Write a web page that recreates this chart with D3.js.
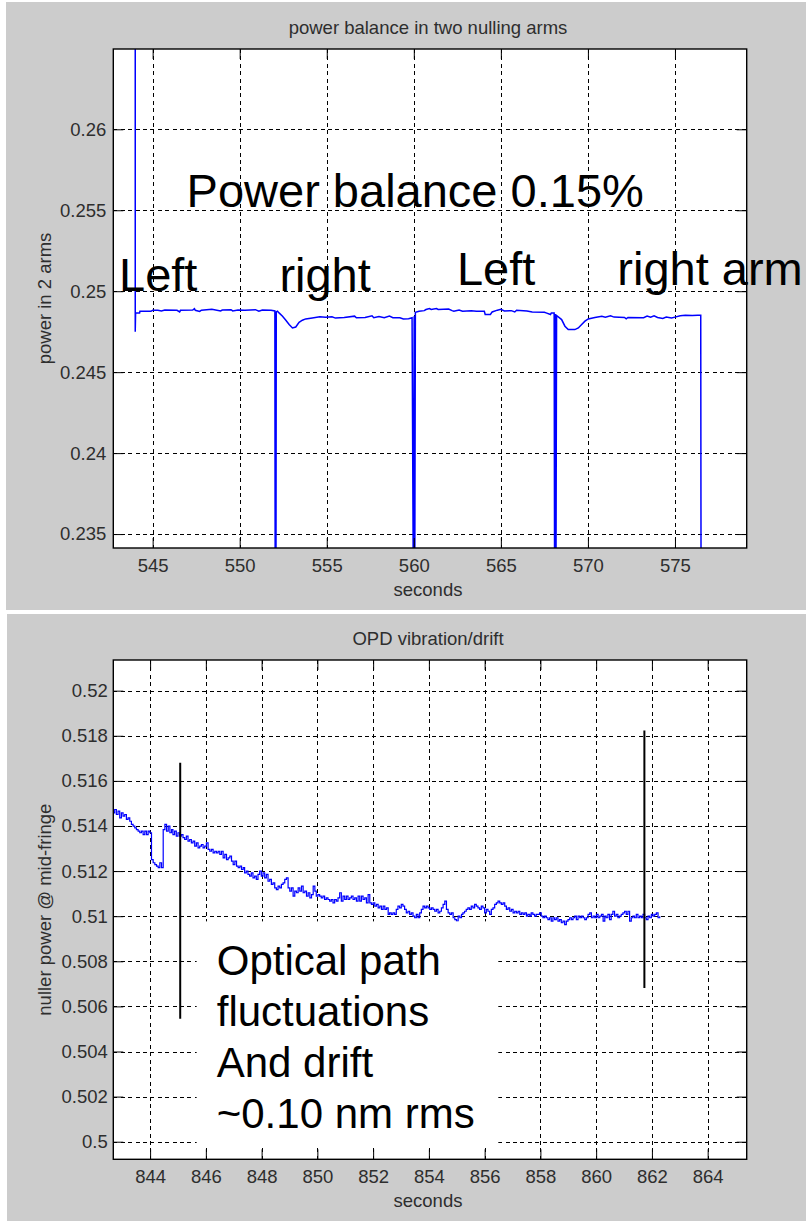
<!DOCTYPE html>
<html>
<head>
<meta charset="utf-8">
<script src="https://cdn.jsdelivr.net/npm/d3@7"></script>
<style>
  html, body { margin: 0; padding: 0; background: #ffffff; }
  svg { display: block; }
  text { font-family: "Liberation Sans", Arial, Helvetica, sans-serif; }
</style>
</head>
<body>
<svg id="fig" width="806" height="1221"></svg>
<script>
// ---------- Panel 1: power balance in two nulling arms ----------
const balanceTitle = "power balance in two nulling arms";
const balanceXLabel = "seconds";
const balanceYLabel = "power in 2 arms";
const balanceXDomain = [542.74, 579.12];
const balanceYDomain = [0.23414, 0.26496];
const balanceXTicks = [545, 550, 555, 560, 565, 570, 575];
const balanceXTickLabels = ["545", "550", "555", "560", "565", "570", "575"];
const balanceYTicks = [0.235, 0.24, 0.245, 0.25, 0.255, 0.26];
const balanceYTickLabels = ["0.235", "0.24", "0.245", "0.25", "0.255", "0.26"];

const balanceTime = [
  544.00, 544.00, 544.02, 544.25, 544.27, 544.90, 545.00, 545.30, 545.50, 545.70,
  546.40, 546.55, 546.60, 547.30, 547.40, 547.45, 547.70, 547.80, 548.40, 548.90,
  549.00, 549.50, 549.60, 549.90, 550.30, 550.90, 551.10, 551.30, 551.80, 552.02,
  552.04, 552.06, 552.08, 552.10, 552.17, 552.26, 552.46, 552.65, 552.84, 553.03,
  553.22, 553.41, 553.60, 553.79, 554.17, 554.60, 554.93, 555.30, 555.50, 556.00,
  556.60, 556.70, 557.20, 557.60, 557.70, 558.00, 558.30, 558.60, 558.80, 559.20,
  559.40, 559.70, 559.90, 559.98, 560.02, 560.05, 560.09, 560.30, 560.60, 560.70,
  560.90, 561.00, 561.30, 561.40, 562.00, 562.20, 562.30, 562.60, 562.80, 563.30,
  563.60, 564.05, 564.10, 564.40, 564.50, 564.80, 565.00, 565.20, 565.60, 565.80,
  565.90, 566.50, 566.80, 567.50, 567.60, 567.85, 567.90, 568.06, 568.09, 568.13,
  568.16, 568.20, 568.49, 568.68, 568.87, 569.25, 569.45, 569.64, 569.83, 570.02,
  570.40, 570.80, 571.00, 571.30, 571.50, 572.10, 572.20, 572.30, 573.20, 573.40,
  573.60, 573.80, 574.00, 574.30, 574.50, 574.80, 575.00, 575.30, 575.60, 576.00,
  576.30, 576.48, 576.50
];
const balancePower = [
  0.2700, 0.2475, 0.24866, 0.24866, 0.24876, 0.24876, 0.24882, 0.24882, 0.24878, 0.24884,
  0.24882, 0.24872, 0.24882, 0.24884, 0.24892, 0.24882, 0.24875, 0.24883, 0.24888, 0.24878,
  0.24884, 0.24886, 0.24878, 0.24884, 0.24882, 0.24886, 0.24876, 0.24884, 0.24882, 0.24878,
  0.2300, 0.2410, 0.2300, 0.24872, 0.24876, 0.24866, 0.24845, 0.24821, 0.24794, 0.24773,
  0.24779, 0.24808, 0.24821, 0.24829, 0.24835, 0.24842, 0.24839, 0.24842, 0.24834, 0.24838,
  0.24846, 0.24836, 0.24838, 0.24848, 0.24836, 0.24844, 0.24836, 0.24846, 0.24836, 0.24836,
  0.24828, 0.24830, 0.24836, 0.2300, 0.24845, 0.2300, 0.24870, 0.24876, 0.24880, 0.24887,
  0.24893, 0.24887, 0.24893, 0.24887, 0.24890, 0.24880, 0.24876, 0.24884, 0.24876, 0.24880,
  0.24876, 0.24876, 0.24856, 0.24856, 0.24872, 0.24883, 0.24888, 0.24878, 0.24880, 0.24872,
  0.24882, 0.24878, 0.24872, 0.24870, 0.24866, 0.24856, 0.24866, 0.24866, 0.2300, 0.24860,
  0.2300, 0.24850, 0.24825, 0.24784, 0.24763, 0.24763, 0.24773, 0.24794, 0.24815, 0.24829,
  0.24838, 0.24845, 0.24840, 0.24848, 0.24840, 0.24838, 0.24830, 0.24838, 0.24836, 0.24846,
  0.24840, 0.24848, 0.24838, 0.24832, 0.24840, 0.24834, 0.24840, 0.24848, 0.24852, 0.24850,
  0.24852, 0.24852, 0.2300
];

const balanceNotes = [
  { text: "Power balance 0.15%", t: 546.95, v: 0.25519 },
  { text: "Left", t: 543.07, v: 0.25000 },
  { text: "right", t: 552.28, v: 0.25000 },
  { text: "Left", t: 562.48, v: 0.25037 },
  { text: "right arm", t: 571.69, v: 0.25037 }
];

// ---------- Panel 2: OPD vibration/drift ----------
const opdTitle = "OPD vibration/drift";
const opdXLabel = "seconds";
const opdYLabel = "nuller power @ mid-fringe";
const opdXDomain = [842.68, 865.40];
const opdYDomain = [0.49922, 0.52136];
const opdXTicks = [844, 846, 848, 850, 852, 854, 856, 858, 860, 862, 864];
const opdXTickLabels = ["844", "846", "848", "850", "852", "854", "856", "858", "860", "862", "864"];
const opdYTicks = [0.5, 0.502, 0.504, 0.506, 0.508, 0.51, 0.512, 0.514, 0.516, 0.518, 0.52];
const opdYTickLabels = ["0.5", "0.502", "0.504", "0.506", "0.508", "0.51", "0.512", "0.514", "0.516", "0.518", "0.52"];

const opdTime = [
  842.67, 842.73, 842.79, 842.85, 842.91, 842.97, 843.03, 843.09, 843.15, 843.21,
  843.27, 843.33, 843.39, 843.45, 843.51, 843.57, 843.63, 843.69, 843.75, 843.81,
  843.87, 843.93, 843.99, 844.05, 844.11, 844.17, 844.23, 844.29, 844.35, 844.41,
  844.47, 844.53, 844.59, 844.65, 844.71, 844.77, 844.82, 844.88, 844.94, 845.00,
  845.06, 845.12, 845.18, 845.24, 845.30, 845.36, 845.42, 845.48, 845.54, 845.60,
  845.66, 845.72, 845.78, 845.84, 845.90, 845.96, 846.02, 846.08, 846.14, 846.20,
  846.26, 846.32, 846.38, 846.44, 846.50, 846.56, 846.62, 846.68, 846.74, 846.80,
  846.86, 846.92, 846.98, 847.04, 847.10, 847.16, 847.22, 847.28, 847.34, 847.39,
  847.45, 847.51, 847.57, 847.63, 847.69, 847.75, 847.81, 847.87, 847.93, 847.99,
  848.05, 848.11, 848.17, 848.23, 848.29, 848.35, 848.41, 848.47, 848.53, 848.59,
  848.65, 848.71, 848.77, 848.83, 848.89, 848.95, 849.01, 849.07, 849.13, 849.19,
  849.25, 849.31, 849.37, 849.43, 849.49, 849.55, 849.61, 849.67, 849.73, 849.79,
  849.85, 849.91, 849.96, 850.02, 850.08, 850.14, 850.20, 850.26, 850.32, 850.38,
  850.44, 850.50, 850.56, 850.62, 850.68, 850.74, 850.80, 850.86, 850.92, 850.98,
  851.04, 851.10, 851.16, 851.22, 851.28, 851.34, 851.40, 851.46, 851.52, 851.58,
  851.64, 851.70, 851.76, 851.82, 851.88, 851.94, 852.00, 852.06, 852.12, 852.18,
  852.24, 852.30, 852.36, 852.42, 852.48, 852.54, 852.59, 852.65, 852.71, 852.77,
  852.83, 852.89, 852.95, 853.01, 853.07, 853.13, 853.19, 853.25, 853.31, 853.37,
  853.43, 853.49, 853.55, 853.61, 853.67, 853.73, 853.79, 853.85, 853.91, 853.97,
  854.03, 854.09, 854.15, 854.21, 854.27, 854.33, 854.39, 854.45, 854.51, 854.57,
  854.63, 854.69, 854.75, 854.81, 854.87, 854.93, 854.99, 855.05, 855.11, 855.17,
  855.22, 855.28, 855.34, 855.40, 855.46, 855.52, 855.58, 855.64, 855.70, 855.76,
  855.82, 855.88, 855.94, 856.00, 856.06, 856.12, 856.18, 856.24, 856.30, 856.36,
  856.42, 856.48, 856.54, 856.60, 856.66, 856.72, 856.78, 856.84, 856.90, 856.96,
  857.02, 857.08, 857.14, 857.20, 857.26, 857.32, 857.38, 857.44, 857.50, 857.55,
  857.62, 857.67, 857.73, 857.79, 857.85, 857.91, 857.97, 858.03, 858.09, 858.15,
  858.21, 858.27, 858.33, 858.39, 858.45, 858.51, 858.57, 858.63, 858.69, 858.75,
  858.81, 858.87, 858.93, 858.99, 859.05, 859.11, 859.17, 859.23, 859.29, 859.35,
  859.41, 859.47, 859.53, 859.59, 859.65, 859.71, 859.77, 859.83, 859.89, 859.95,
  860.01, 860.07, 860.13, 860.19, 860.25, 860.31, 860.36, 860.42, 860.48, 860.54,
  860.60, 860.66, 860.72, 860.78, 860.84, 860.90, 860.96, 861.02, 861.08, 861.14,
  861.20, 861.26, 861.32, 861.38, 861.44, 861.50, 861.56, 861.62, 861.68, 861.74,
  861.80, 861.86, 861.92, 861.98, 862.04, 862.10, 862.16, 862.22, 862.28
];
const opdPower = [
  0.51458, 0.51473, 0.51451, 0.51466, 0.51436, 0.51458, 0.51444, 0.51451, 0.51429, 0.51436,
  0.51421, 0.51407, 0.51399, 0.51392, 0.51384, 0.51377, 0.51370, 0.51377, 0.51362, 0.51377,
  0.51362, 0.51377, 0.51370, 0.51251, 0.51237, 0.51229, 0.51222, 0.51215, 0.51237, 0.51215,
  0.51384, 0.51407, 0.51377, 0.51399, 0.51370, 0.51384, 0.51362, 0.51377, 0.51355, 0.51370,
  0.51355, 0.51362, 0.51348, 0.51340, 0.51355, 0.51333, 0.51340, 0.51325, 0.51333, 0.51311,
  0.51325, 0.51303, 0.51311, 0.51318, 0.51303, 0.51311, 0.51325, 0.51296, 0.51288, 0.51296,
  0.51281, 0.51288, 0.51281, 0.51288, 0.51274, 0.51288, 0.51259, 0.51274, 0.51251, 0.51259,
  0.51266, 0.51244, 0.51229, 0.51244, 0.51222, 0.51215, 0.51222, 0.51207, 0.51215, 0.51192,
  0.51200, 0.51185, 0.51178, 0.51192, 0.51170, 0.51178, 0.51163, 0.51185, 0.51200, 0.51178,
  0.51192, 0.51170, 0.51185, 0.51155, 0.51163, 0.51141, 0.51148, 0.51126, 0.51118, 0.51133,
  0.51126, 0.51141, 0.51148, 0.51163, 0.51170, 0.51126, 0.51111, 0.51126, 0.51089, 0.51111,
  0.51104, 0.51126, 0.51111, 0.51133, 0.51104, 0.51111, 0.51089, 0.51104, 0.51081, 0.51096,
  0.51133, 0.51111, 0.51089, 0.51096, 0.51089, 0.51081, 0.51089, 0.51074, 0.51081, 0.51074,
  0.51067, 0.51074, 0.51059, 0.51074, 0.51067, 0.51081, 0.51104, 0.51067, 0.51089, 0.51074,
  0.51089, 0.51074, 0.51081, 0.51089, 0.51074, 0.51081, 0.51067, 0.51089, 0.51067, 0.51089,
  0.51074, 0.51081, 0.51059, 0.51096, 0.51059, 0.51052, 0.51059, 0.51045, 0.51052, 0.51037,
  0.51045, 0.51030, 0.51045, 0.51030, 0.51037, 0.51008, 0.51015, 0.51008, 0.51015, 0.51008,
  0.51030, 0.51045, 0.51037, 0.51052, 0.51045, 0.51030, 0.51015, 0.51022, 0.51008, 0.51015,
  0.51000, 0.50993, 0.51008, 0.50993, 0.51015, 0.51030, 0.51045, 0.51037, 0.51045, 0.51037,
  0.51030, 0.51037, 0.51030, 0.51022, 0.51030, 0.51015, 0.51022, 0.51037, 0.51052, 0.51067,
  0.51030, 0.51015, 0.51008, 0.51015, 0.50993, 0.50985, 0.50978, 0.51000, 0.50993, 0.51008,
  0.51015, 0.51022, 0.51030, 0.51037, 0.51030, 0.51045, 0.51037, 0.51052, 0.51045, 0.51037,
  0.51030, 0.51045, 0.51037, 0.51015, 0.51030, 0.51022, 0.51008, 0.51030, 0.51037, 0.51052,
  0.51059, 0.51067, 0.51059, 0.51052, 0.51059, 0.51045, 0.51030, 0.51037, 0.51022, 0.51030,
  0.51015, 0.51022, 0.51015, 0.51022, 0.51008, 0.51015, 0.51008, 0.51015, 0.51000, 0.51008,
  0.51000, 0.51015, 0.51008, 0.51000, 0.51008, 0.51008, 0.51015, 0.51000, 0.50993, 0.51000,
  0.50993, 0.50985, 0.50993, 0.50978, 0.50993, 0.50985, 0.50993, 0.50978, 0.50985, 0.50971,
  0.50978, 0.50963, 0.50978, 0.50985, 0.50993, 0.50985, 0.50993, 0.51000, 0.50985, 0.51000,
  0.50993, 0.51000, 0.50993, 0.50985, 0.50993, 0.51008, 0.51015, 0.50993, 0.51000, 0.50993,
  0.51008, 0.50993, 0.51000, 0.51008, 0.50978, 0.51000, 0.50993, 0.51008, 0.50985, 0.51008,
  0.51022, 0.51000, 0.51008, 0.50993, 0.51000, 0.51008, 0.51015, 0.51022, 0.51008, 0.51022,
  0.50978, 0.50993, 0.51000, 0.50993, 0.51008, 0.50993, 0.51000, 0.50993, 0.51008, 0.50993,
  0.50985, 0.51000, 0.50993, 0.51008, 0.51000, 0.51008, 0.51015, 0.50993, 0.51000
];

// vertical marker bars drawn over the OPD trace
const opdMarkerTime = [845.08, 861.73];
const opdMarkerTop = [0.51680, 0.51823];
const opdMarkerBottom = [0.50545, 0.50682];

// boxed note in the OPD panel
const opdNoteLines = ["Optical path", "fluctuations", "And drift", "~0.10 nm rms"];
const opdNoteBox = { t0: 845.67, t1: 856.49, v0: 0.49977, v1: 0.50977 };
const opdNoteAnchor = { t: 846.39, v: 0.50741 };

// ---------- drawing ----------
const svg = d3.select("#fig");
const FIG_BG = "#cccccc";
const TRACE = "#0000ff";
const TICK_FONT = 18.5;

function drawPanel(cfg) {
  const g = svg.append("g");

  g.append("rect")
    .attr("x", cfg.bg.x).attr("y", cfg.bg.y)
    .attr("width", cfg.bg.w).attr("height", cfg.bg.h)
    .attr("fill", FIG_BG);

  const { left, top, right, bottom } = cfg.box;
  const x = d3.scaleLinear().domain(cfg.xDomain).range([left, right]);
  const y = d3.scaleLinear().domain(cfg.yDomain).range([bottom, top]);

  g.append("rect")
    .attr("x", left).attr("y", top)
    .attr("width", right - left).attr("height", bottom - top)
    .attr("fill", "#ffffff");

  // dotted grid
  const grid = g.append("g")
    .attr("stroke", "#000").attr("stroke-width", 1)
    .attr("stroke-dasharray", "4,3.4").attr("shape-rendering", "crispEdges");
  grid.selectAll("line.gx").data(cfg.xTicks).join("line")
    .attr("class", "gx")
    .attr("x1", d => Math.round(x(d)) + 0.5).attr("x2", d => Math.round(x(d)) + 0.5)
    .attr("y1", top).attr("y2", bottom);
  grid.selectAll("line.gy").data(cfg.yTicks).join("line")
    .attr("class", "gy")
    .attr("y1", d => Math.round(y(d)) + 0.5).attr("y2", d => Math.round(y(d)) + 0.5)
    .attr("x1", left).attr("x2", right);

  const clipId = cfg.id + "-clip";
  g.append("clipPath").attr("id", clipId)
    .append("rect").attr("x", left).attr("y", top)
    .attr("width", right - left).attr("height", bottom - top);

  const plot = g.append("g").attr("clip-path", `url(#${clipId})`);
  cfg.drawData(plot, x, y);

  // axes with inward ticks on all four sides
  const fmtX = d => cfg.xTickLabels[cfg.xTicks.indexOf(d)];
  const fmtY = d => cfg.yTickLabels[cfg.yTicks.indexOf(d)];
  const axes = [
    g.append("g").attr("transform", `translate(0,${bottom})`)
      .call(d3.axisBottom(x).tickValues(cfg.xTicks).tickFormat(fmtX).tickSize(-10).tickSizeOuter(0).tickPadding(11)),
    g.append("g").attr("transform", `translate(0,${top})`)
      .call(d3.axisTop(x).tickValues(cfg.xTicks).tickFormat("").tickSize(-10).tickSizeOuter(0)),
    g.append("g").attr("transform", `translate(${left},0)`)
      .call(d3.axisLeft(y).tickValues(cfg.yTicks).tickFormat(fmtY).tickSize(-10).tickSizeOuter(0).tickPadding(cfg.yPad)),
    g.append("g").attr("transform", `translate(${right},0)`)
      .call(d3.axisRight(y).tickValues(cfg.yTicks).tickFormat("").tickSize(-10).tickSizeOuter(0))
  ];
  axes.forEach(a => {
    a.select(".domain").remove();
    a.selectAll(".tick line").attr("stroke", "#000").attr("stroke-width", 1);
    a.selectAll(".tick text")
      .attr("fill", "#2e2e2e")
      .style("font-size", TICK_FONT + "px")
      .style("font-family", '"Liberation Sans", Arial, sans-serif');
  });

  g.append("rect")
    .attr("x", left).attr("y", top)
    .attr("width", right - left).attr("height", bottom - top)
    .attr("fill", "none").attr("stroke", "#000").attr("stroke-width", 1.4);

  // title and axis labels
  const cx = (left + right) / 2 - 2;
  g.append("text").attr("x", cx).attr("y", cfg.titleY)
    .attr("text-anchor", "middle").attr("fill", "#2e2e2e")
    .style("font-size", "18.5px").text(cfg.title);
  g.append("text").attr("x", cx).attr("y", cfg.xLabelY)
    .attr("text-anchor", "middle").attr("fill", "#2e2e2e")
    .style("font-size", "18.5px").text(cfg.xLabel);
  g.append("text")
    .attr("transform", `translate(${cfg.yLabelX},${(top + bottom) / 2}) rotate(-90)`)
    .attr("text-anchor", "middle").attr("fill", "#2e2e2e")
    .style("font-size", "18.5px").text(cfg.yLabel);

  if (cfg.drawNotes) cfg.drawNotes(g, x, y);
}

drawPanel({
  id: "balance",
  bg: { x: 6, y: 2, w: 800, h: 608 },
  box: { left: 113.3, top: 49, right: 746.7, bottom: 548 },
  xDomain: balanceXDomain, yDomain: balanceYDomain,
  xTicks: balanceXTicks, xTickLabels: balanceXTickLabels,
  yTicks: balanceYTicks, yTickLabels: balanceYTickLabels,
  yPad: 7,
  title: balanceTitle, xLabel: balanceXLabel, yLabel: balanceYLabel,
  titleY: 34, xLabelY: 596, yLabelX: 51,
  drawData(plot, x, y) {
    const pts = balanceTime.map((t, i) => [t, balancePower[i]]);
    plot.append("path")
      .datum(pts)
      .attr("fill", "none").attr("stroke", TRACE)
      .attr("stroke-width", 1.5).attr("stroke-linejoin", "miter")
      .attr("d", d3.line().x(d => x(d[0])).y(d => y(d[1])));
  },
  drawNotes(g, x, y) {
    g.selectAll("text.note").data(balanceNotes).join("text")
      .attr("class", "note")
      .attr("x", d => x(d.t)).attr("y", d => y(d.v))
      .attr("fill", "#000")
      .style("font-size", "47px")
      .text(d => d.text);
  }
});

drawPanel({
  id: "opd",
  bg: { x: 7, y: 614, w: 799, h: 607 },
  box: { left: 113.3, top: 660, right: 746.7, bottom: 1159.3 },
  xDomain: opdXDomain, yDomain: opdYDomain,
  xTicks: opdXTicks, xTickLabels: opdXTickLabels,
  yTicks: opdYTicks, yTickLabels: opdYTickLabels,
  yPad: 5.5,
  title: opdTitle, xLabel: opdXLabel, yLabel: opdYLabel,
  titleY: 645, xLabelY: 1207, yLabelX: 51,
  drawData(plot, x, y) {
    const pts = opdTime.map((t, i) => [t, opdPower[i]]);
    plot.append("path")
      .datum(pts)
      .attr("fill", "none").attr("stroke", TRACE)
      .attr("stroke-width", 1.2)
      .attr("d", d3.line().curve(d3.curveStepAfter).x(d => x(d[0])).y(d => y(d[1])));
  },
  drawNotes(g, x, y) {
    g.selectAll("line.marker").data(opdMarkerTime).join("line")
      .attr("class", "marker")
      .attr("x1", d => x(d)).attr("x2", d => x(d))
      .attr("y1", (d, i) => y(opdMarkerTop[i]))
      .attr("y2", (d, i) => y(opdMarkerBottom[i]))
      .attr("stroke", "#000").attr("stroke-width", 2);

    g.append("rect")
      .attr("x", x(opdNoteBox.t0)).attr("y", y(opdNoteBox.v1))
      .attr("width", x(opdNoteBox.t1) - x(opdNoteBox.t0))
      .attr("height", y(opdNoteBox.v0) - y(opdNoteBox.v1))
      .attr("fill", "#ffffff");

    const note = g.append("text")
      .attr("x", x(opdNoteAnchor.t)).attr("y", y(opdNoteAnchor.v))
      .attr("fill", "#000").style("font-size", "42px");
    note.selectAll("tspan").data(opdNoteLines).join("tspan")
      .attr("x", x(opdNoteAnchor.t))
      .attr("dy", (d, i) => i === 0 ? 0 : 51)
      .text(d => d);
  }
});
</script>
</body>
</html>
